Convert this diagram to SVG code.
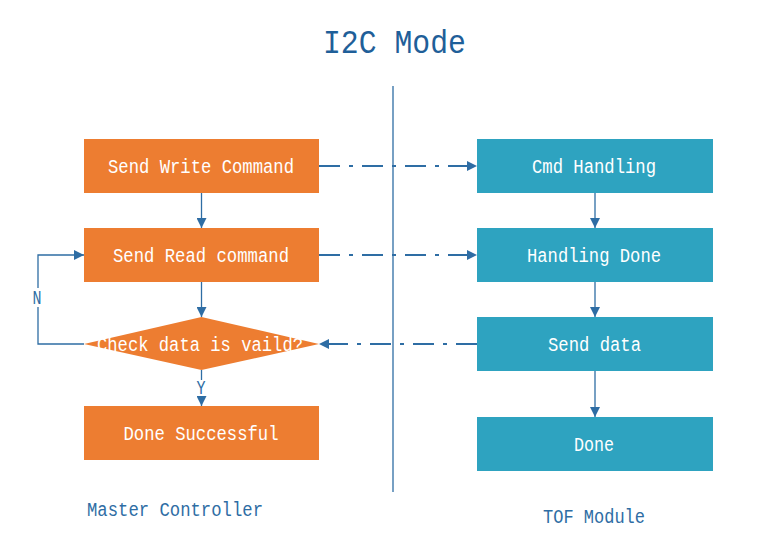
<svg xmlns="http://www.w3.org/2000/svg" width="760" height="552" viewBox="0 0 760 552">
<style>
.t{font-family:"Liberation Mono",monospace;font-size:20px;fill:#ffffff;text-anchor:middle}
.lbl{font-family:"Liberation Mono",monospace;font-size:20px;fill:#2e6da4;text-anchor:middle}
.or{fill:#ed7d31}
.tl{fill:#2ea3c0}
.ln{stroke:#2e6da4;stroke-width:1.3;fill:none}
.dd{stroke:#2e6da4;stroke-width:2;fill:none;stroke-dasharray:21,9,4,9}
</style>
<defs>
<marker id="ah" viewBox="0 0 10 10" refX="10" refY="5" markerWidth="10" markerHeight="10" markerUnits="userSpaceOnUse" orient="auto">
<path d="M0,0 L10,5 L0,10 z" fill="#2e6da4"/>
</marker>
</defs>
<rect width="760" height="552" fill="#ffffff"/>
<text x="394.5" y="53" font-family="Liberation Mono,monospace" font-size="34" fill="#1f5f99" text-anchor="middle" textLength="143" lengthAdjust="spacingAndGlyphs">I2C Mode</text>
<line x1="393" y1="86" x2="393" y2="492" stroke="#2e6da4" stroke-width="1.3"/>
<g id="connectors">
<line class="ln" x1="201.5" y1="193" x2="201.5" y2="228" marker-end="url(#ah)"/>
<line class="ln" x1="201.5" y1="282" x2="201.5" y2="317" marker-end="url(#ah)"/>
<line class="ln" x1="201.5" y1="370" x2="201.5" y2="380"/>
<line class="ln" x1="201.5" y1="397" x2="201.5" y2="406" marker-end="url(#ah)"/>
<path class="ln" d="M84,344 H38 V307"/>
<path class="ln" d="M38,288 V255 H84" marker-end="url(#ah)"/>
<line class="ln" x1="595" y1="193" x2="595" y2="228" marker-end="url(#ah)"/>
<line class="ln" x1="595" y1="282" x2="595" y2="317" marker-end="url(#ah)"/>
<line class="ln" x1="595" y1="371" x2="595" y2="417" marker-end="url(#ah)"/>
<line class="dd" x1="319" y1="166" x2="477" y2="166" marker-end="url(#ah)"/>
<line class="dd" x1="319" y1="255" x2="477" y2="255" marker-end="url(#ah)"/>
<line class="dd" x1="477" y1="344" x2="319" y2="344" marker-end="url(#ah)"/>
<text class="lbl" x="37" y="304" textLength="9" lengthAdjust="spacingAndGlyphs">N</text>
<text class="lbl" x="201" y="394" textLength="9" lengthAdjust="spacingAndGlyphs">Y</text>
</g>
<g id="n1"><rect class="or" x="84" y="139" width="235" height="54"/><text class="t" x="201" y="173" textLength="186" lengthAdjust="spacingAndGlyphs">Send Write Command</text></g>
<g id="n2"><rect class="or" x="84" y="228" width="235" height="54"/><text class="t" x="201" y="262" textLength="176" lengthAdjust="spacingAndGlyphs">Send Read command</text></g>
<g id="n3"><polygon class="or" points="201.5,317 319,344 201.5,370 84,344"/><text class="t" x="200" y="351" textLength="206" lengthAdjust="spacingAndGlyphs">Check data is vaild?</text></g>
<g id="n4"><rect class="or" x="84" y="406" width="235" height="54"/><text class="t" x="201" y="440" textLength="155" lengthAdjust="spacingAndGlyphs">Done Successful</text></g>
<g id="m1"><rect class="tl" x="477" y="139" width="236" height="54"/><text class="t" x="594" y="173" textLength="124" lengthAdjust="spacingAndGlyphs">Cmd Handling</text></g>
<g id="m2"><rect class="tl" x="477" y="228" width="236" height="54"/><text class="t" x="594" y="262" textLength="134" lengthAdjust="spacingAndGlyphs">Handling Done</text></g>
<g id="m3"><rect class="tl" x="477" y="317" width="236" height="54"/><text class="t" x="594.5" y="351" textLength="93" lengthAdjust="spacingAndGlyphs">Send data</text></g>
<g id="m4"><rect class="tl" x="477" y="417" width="236" height="54"/><text class="t" x="594" y="451" textLength="40" lengthAdjust="spacingAndGlyphs">Done</text></g>
<text class="lbl" x="175" y="516" textLength="176" lengthAdjust="spacingAndGlyphs">Master Controller</text>
<text class="lbl" x="594" y="523" textLength="102" lengthAdjust="spacingAndGlyphs">TOF Module</text>
</svg>
